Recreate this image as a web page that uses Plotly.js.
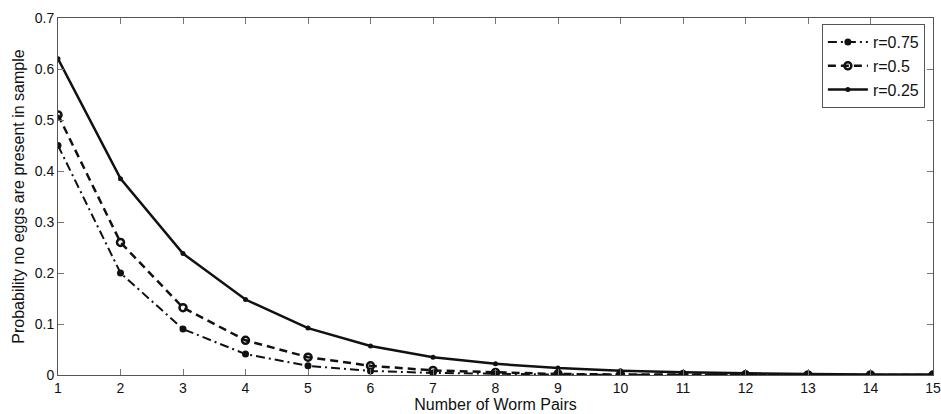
<!DOCTYPE html>
<html>
<head>
<meta charset="utf-8">
<script src="https://cdn.plot.ly/plotly-3.0.1.min.js"></script>
<style>html,body{margin:0;padding:0;background:#fff;}#chart{width:941px;height:414px;}</style>
</head>
<body>
<div id="chart"></div>
<script>
const wormPairs = [1,2,3,4,5,6,7,8,9,10,11,12,13,14,15];
const seriesNames = ['r=0.75','r=0.5','r=0.25'];
const r075 = [0.45,0.20,0.090,0.041,0.018,0.008,0.004,0.002,0.001,0.0005,0.0002,0.0001,0.0001,0.0,0.0];
const r050 = [0.51,0.26,0.132,0.068,0.035,0.018,0.009,0.005,0.002,0.001,0.0006,0.0003,0.0002,0.0001,0.0];
const r025 = [0.62,0.385,0.238,0.148,0.092,0.057,0.035,0.022,0.0135,0.0084,0.0052,0.0032,0.002,0.0012,0.0008];
const xTicks = [1,2,3,4,5,6,7,8,9,10,11,12,13,14,15];
const yTicks = [0,0.1,0.2,0.3,0.4,0.5,0.6,0.7];

const font = "Liberation Sans, Arial, sans-serif";
const traces = [
  {x: wormPairs, y: r075, name: seriesNames[0], mode: 'lines+markers',
   line: {color: '#111', width: 2, dash: '9px,4px,2px,4px'},
   marker: {symbol: 'circle', size: 7, color: '#111'}},
  {x: wormPairs, y: r050, name: seriesNames[1], mode: 'lines+markers',
   line: {color: '#111', width: 2.5, dash: '8px,5px'},
   marker: {symbol: 'circle-open', size: 7, color: '#111', line: {width: 2.5, color: '#111'}}},
  {x: wormPairs, y: r025, name: seriesNames[2], mode: 'lines+markers',
   line: {color: '#111', width: 2.5},
   marker: {symbol: 'circle', size: 5, color: '#111'}}
];

const axisCommon = {
  showgrid: false, zeroline: false, showline: true, linecolor: '#555', linewidth: 1,
  mirror: 'ticks', ticks: 'inside', ticklen: 6, tickcolor: '#777', tickwidth: 1,
  tickfont: {family: font, size: 14, color: '#111'}
};

const layout = {
  width: 941, height: 414,
  margin: {l: 58, r: 8, t: 18, b: 39},
  paper_bgcolor: '#fff', plot_bgcolor: '#fff',
  font: {family: font, color: '#111'},
  showlegend: true,
  legend: {x: 0.873, y: 0.983, xanchor: 'left', yanchor: 'top',
           bordercolor: '#555', borderwidth: 1, bgcolor: '#fff',
           font: {family: font, size: 16, color: '#111'},
           tracegroupgap: 0, itemwidth: 40},
  xaxis: Object.assign({}, axisCommon, {
    range: [1, 15], tickvals: xTicks, ticktext: xTicks.map(String),
    title: {text: 'Number of Worm Pairs', font: {family: font, size: 16, color: '#111'}, standoff: 2}
  }),
  yaxis: Object.assign({}, axisCommon, {
    range: [0, 0.7], tickvals: yTicks, ticktext: yTicks.map(v => v === 0 ? '0' : v.toFixed(1)),
    title: {text: 'Probability no eggs are present in sample', font: {family: font, size: 16, color: '#111'}, standoff: 6}
  })
};

Plotly.newPlot('chart', traces, layout, {displayModeBar: false, staticPlot: true});
</script>
</body>
</html>
